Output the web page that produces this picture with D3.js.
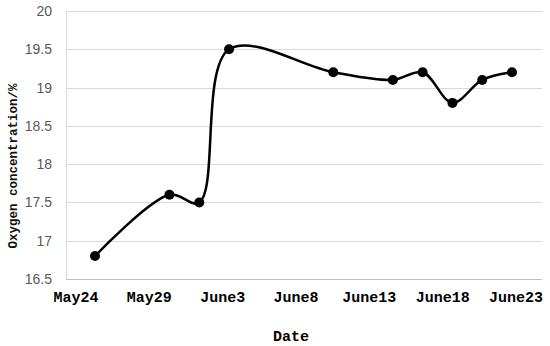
<!DOCTYPE html>
<html>
<head>
<meta charset="utf-8">
<script src="https://cdn.jsdelivr.net/npm/d3@7"></script>
<style>
  body { margin: 0; background: #fff; }
</style>
</head>
<body>
<script>
// days counted from May24
const days = [1, 6, 8, 10, 17, 21, 23, 25, 27, 29];
const oxygen = [16.8, 17.6, 17.5, 19.5, 19.2, 19.1, 19.2, 18.8, 19.1, 19.2];
const dateLabels = ["May24", "May29", "June3", "June8", "June13", "June18", "June23"];
const yTicks = [16.5, 17, 17.5, 18, 18.5, 19, 19.5, 20];

const m = { width: 550, height: 346 };
const plot = { left: 66, right: 542, top: 11, bottom: 279 };

const svg = d3.select("body").append("svg")
    .attr("width", m.width)
    .attr("height", m.height);

const x = d3.scaleLinear().domain([1, 29]).range([95, 512]);
const xLab = d3.scalePoint().domain(dateLabels).range([76, 516]);
const y = d3.scaleLinear().domain([16.5, 20]).range([plot.bottom, plot.top]);

// gridlines
svg.append("g").selectAll("line")
    .data(yTicks.slice(1))
    .enter().append("line")
    .attr("x1", plot.left).attr("x2", plot.right)
    .attr("y1", d => Math.round(y(d)) + 0.5).attr("y2", d => Math.round(y(d)) + 0.5)
    .attr("stroke", "#d9d9d9");

// axis lines
svg.append("line")
    .attr("x1", plot.left + 0.5).attr("x2", plot.left + 0.5)
    .attr("y1", plot.top).attr("y2", plot.bottom)
    .attr("stroke", "#d9d9d9");
svg.append("line")
    .attr("x1", plot.left).attr("x2", plot.right)
    .attr("y1", plot.bottom + 0.5).attr("y2", plot.bottom + 0.5)
    .attr("stroke", "#bfbfbf");

// y tick labels
svg.append("g").selectAll("text")
    .data(yTicks)
    .enter().append("text")
    .attr("x", 52)
    .attr("y", d => y(d) + 5)
    .attr("text-anchor", "end")
    .attr("font-family", "Liberation Sans, Arial, sans-serif")
    .attr("font-size", 14)
    .attr("fill", "#595959")
    .text(d => d);

// x labels
svg.append("g").selectAll("text")
    .data(dateLabels)
    .enter().append("text")
    .attr("x", d => xLab(d))
    .attr("y", 302)
    .attr("text-anchor", "middle")
    .attr("font-family", "Liberation Mono, monospace")
    .attr("font-size", 15)
    .attr("font-weight", "bold")
    .attr("fill", "#000")
    .text(d => d);

// axis titles
svg.append("text")
    .attr("x", 291).attr("y", 341)
    .attr("text-anchor", "middle")
    .attr("font-family", "Liberation Mono, monospace")
    .attr("font-size", 15)
    .attr("font-weight", "bold")
    .text("Date");

svg.append("text")
    .attr("transform", "translate(17,166) rotate(-90)")
    .attr("text-anchor", "middle")
    .attr("font-family", "Liberation Mono, monospace")
    .attr("font-size", 12.5)
    .attr("font-weight", "bold")
    .attr("fill", "#111")
    .text("Oxygen concentration/%");

const pts = days.map((d, i) => [x(d), y(oxygen[i])]);

const line = d3.line().curve(d3.curveCatmullRom.alpha(0.5));

svg.append("path")
    .attr("d", line(pts))
    .attr("fill", "none")
    .attr("stroke", "#000")
    .attr("stroke-width", 2.5);

svg.append("g").selectAll("circle")
    .data(pts)
    .enter().append("circle")
    .attr("cx", d => d[0]).attr("cy", d => d[1])
    .attr("r", 5)
    .attr("fill", "#000");
</script>
</body>
</html>
